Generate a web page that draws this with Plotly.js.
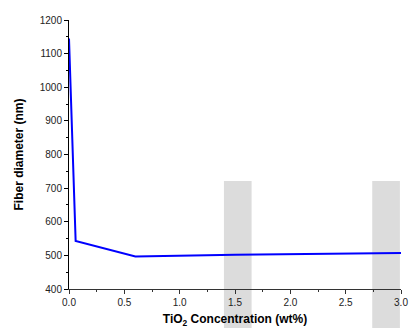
<!DOCTYPE html>
<html>
<head>
<meta charset="utf-8">
<script src="https://cdn.plot.ly/plotly-3.0.1.min.js"></script>
<style>html,body{margin:0;padding:0;background:#fff;}#chart{width:409px;height:328px;}</style>
</head>
<body>
<div id="chart"></div>
<script>
// Data
const concentration = [0, 0.06, 0.6, 1.5, 3.0];
const fiberDiameter = [1145, 543, 497, 502, 507];
// Gray highlight bands (artifacts in the source figure), in data x units
const bandStart = [1.40, 2.74];
const bandEnd = [1.65, 2.99];
const bandTop = 721;

const xRange = [0, 3.0];
const yRange = [400, 1200];
const margin = {l: 69, r: 8, t: 20, b: 39};
const H = 328;
const plotH = H - margin.t - margin.b;

function xp(v) { return (v - xRange[0]) / (xRange[1] - xRange[0]); }
function yp(v) { return (v - yRange[0]) / (yRange[1] - yRange[0]); }

const shapes = bandStart.map((s, i) => ({
  type: 'rect', layer: 'below', xref: 'paper', yref: 'paper',
  x0: xp(s), x1: xp(bandEnd[i]),
  y0: -margin.b / plotH, y1: yp(bandTop),
  fillcolor: '#dcdcdc', line: {width: 0}
}));

const trace = {
  x: concentration, y: fiberDiameter, type: 'scatter', mode: 'lines',
  line: {color: '#0000ff', width: 2}, hoverinfo: 'none'
};

const axFont = {family: 'Liberation Sans, Arial, sans-serif', size: 10, color: '#222'};
const titleFont = {family: 'Liberation Sans, Arial, sans-serif', size: 12, color: '#000', weight: 'bold'};

const layout = {
  width: 409, height: 328, margin: margin,
  paper_bgcolor: '#fff', plot_bgcolor: 'rgba(0,0,0,0)',
  showlegend: false, shapes: shapes,
  xaxis: {
    range: xRange, dtick: 0.5, tick0: 0, tickformat: '.1f',
    ticks: 'outside', ticklen: 4, tickwidth: 1, tickcolor: '#333',
    showline: true, linecolor: '#333', linewidth: 1, showgrid: false, zeroline: false,
    tickfont: axFont,
    minor: {dtick: 0.25, ticks: 'outside', ticklen: 2, tickcolor: '#333', showgrid: false},
    title: {text: 'TiO<sub>2</sub> Concentration (wt%)', font: titleFont, standoff: 8}
  },
  yaxis: {
    range: yRange, dtick: 100, tick0: 0,
    ticks: 'outside', ticklen: 4, tickwidth: 1, tickcolor: '#000',
    showline: true, linecolor: '#000', linewidth: 1, showgrid: false, zeroline: false,
    tickfont: axFont,
    minor: {dtick: 50, ticks: 'outside', ticklen: 2, tickcolor: '#000', showgrid: false},
    title: {text: 'Fiber diameter (nm)', font: titleFont, standoff: 13}
  }
};

Plotly.newPlot('chart', [trace], layout, {staticPlot: true, displayModeBar: false});
</script>
</body>
</html>
